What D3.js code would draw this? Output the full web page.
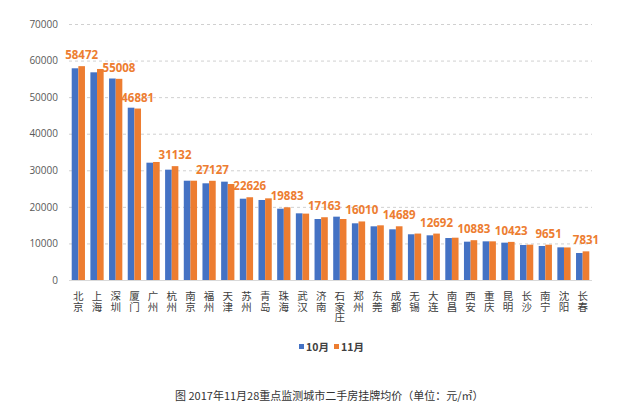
<!DOCTYPE html>
<html><head><meta charset="utf-8">
<script src="https://cdn.jsdelivr.net/npm/d3@7"></script>
<style>
html,body{margin:0;padding:0;background:#fff;}
svg{display:block;font-family:"Noto Sans CJK SC","Microsoft YaHei",sans-serif;}
</style></head>
<body>
<script>
const cities = ["北京","上海","深圳","厦门","广州","杭州","南京","福州","天津","苏州","青岛","珠海","武汉","济南","石家庄","郑州","东莞","成都","无锡","大连","南昌","西安","重庆","昆明","长沙","南宁","沈阳","长春"];
const oct = [57890,56790,55100,47120,32080,30170,27150,26440,26890,22230,21880,19500,18230,16680,17320,15500,14680,13860,12500,12220,11480,10480,10570,10210,9570,9300,8930,7380];
const nov = [58472,57700,55008,46881,32270,31132,27150,27127,26250,22626,22330,19883,18150,17163,16680,16010,14950,14689,12700,12692,11570,10883,10570,10423,9660,9651,8900,7831];
const labeledCities = ["北京","深圳","厦门","杭州","福州","苏州","珠海","济南","郑州","成都","大连","西安","昆明","南宁","长春"];
const seriesNames = ["10月","11月"];
const yTicks = [0,10000,20000,30000,40000,50000,60000,70000];
const caption = "图 2017年11月28重点监测城市二手房挂牌均价（单位：元/㎡）";
const colors = ["#4472C4","#ED7D31"];

const W = 640, H = 413;
const svg = d3.select("body").append("svg").attr("width", W).attr("height", H);
const x = d3.scaleBand().domain(cities).range([69, 592]).paddingInner(0.29).paddingOuter(0.145);
const y = d3.scaleLinear().domain([0, 70000]).range([280, 24]);
const xs = d3.scaleBand().domain(seriesNames).range([0, x.bandwidth()]);

// grid
svg.append("g").selectAll("line").data(yTicks.filter(d => d > 0)).join("line")
  .attr("x1", 69).attr("x2", 592)
  .attr("y1", d => y(d) + 0.5).attr("y2", d => y(d) + 0.5)
  .attr("stroke", "#d0d0d0").attr("stroke-dasharray", "3,3").attr("stroke-width", 1);

// y axis labels
const yAxis = d3.axisLeft(y).tickValues(yTicks).tickSize(0).tickPadding(0).tickFormat(d3.format("d"));
const yg = svg.append("g").attr("transform", "translate(58,0)").call(yAxis);
yg.select(".domain").remove();
yg.selectAll("text").attr("fill", "#595959").style("font-size", "10px").style("font-family", "'Open Sans','Liberation Sans',sans-serif");

// bars
const data = cities.map((c, i) => ({city: c, vals: [oct[i], nov[i]]}));
const g = svg.append("g");
data.forEach(d => {
  d.vals.forEach((v, j) => {
    g.append("rect")
      .attr("x", x(d.city) + xs(seriesNames[j]))
      .attr("width", xs.bandwidth())
      .attr("y", y(v)).attr("height", y(0) - y(v))
      .attr("fill", colors[j]);
  });
});

// baseline
svg.append("line").attr("x1", 69).attr("x2", 592).attr("y1", 280.5).attr("y2", 280.5)
  .attr("stroke", "#d9d9d9").attr("stroke-width", 1);

// labels
data.filter(d => labeledCities.includes(d.city)).forEach(d => {
  const i = cities.indexOf(d.city);
  svg.append("text")
    .attr("x", x(d.city) + xs("11月") + xs.bandwidth() / 2)
    .attr("y", y(nov[i]) - 7)
    .attr("text-anchor", "middle")
    .attr("fill", "#ED7D31")
    .style("font-size", "11.5px").style("font-weight", "bold")
    .style("font-family", "'Open Sans','Liberation Sans',sans-serif")
    .text(nov[i]);
});

// x axis labels (vertical stacked chars)
const xl = svg.append("g");
cities.forEach(c => {
  Array.from(c).forEach((ch, k) => {
    xl.append("text").attr("text-anchor", "middle").attr("fill", "#404040").style("font-size", "10.5px")
      .attr("x", x(c) + x.bandwidth() / 2).attr("y", 300 + k * 10.5).text(ch);
  });
});

// legend
const lg = svg.append("g");
const legendX = [299, 334];
seriesNames.forEach((s, j) => {
  lg.append("rect").attr("x", legendX[j]).attr("y", 344).attr("width", 5).attr("height", 5).attr("fill", colors[j]);
  lg.append("text").attr("x", legendX[j] + 7).attr("y", 350.5).attr("fill", "#404040")
    .style("font-size", "10.5px").style("font-weight", "bold").text(s);
});

// caption
svg.append("text").attr("x", 175).attr("y", 400).attr("fill", "#333")
  .style("font-size", "11px").text(caption);
</script>
</body></html>
